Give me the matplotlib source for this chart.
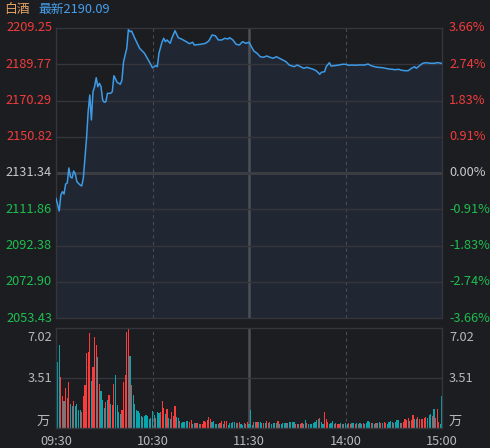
import numpy as np
import matplotlib
matplotlib.use("Agg")
import matplotlib.pyplot as plt
import matplotlib.transforms as mtransforms

plt.rcParams['font.family'] = ['Noto Sans CJK SC', 'DejaVu Sans']

# ---- data ----
title_name = "白酒"
title_last = "最新2190.09"
base_price = 2131.34

price_ticks = [2209.25, 2189.77, 2170.29, 2150.82, 2131.34, 2111.86, 2092.38, 2072.90, 2053.43]
pct_ticks = ["3.66%", "2.74%", "1.83%", "0.91%", "0.00%", "-0.91%", "-1.83%", "-2.74%", "-3.66%"]
time_ticks = [0, 60, 120, 180, 240]
time_labels = ["09:30", "10:30", "11:30", "14:00", "15:00"]
vol_ticks = ["7.02", "3.51"]
vol_max = 7.02

minutes = [0, 2, 3, 4, 5, 6, 7, 8, 9, 10, 11, 12, 13, 15, 16, 17, 18, 19, 20, 21,
           22, 23, 24, 25, 26, 27, 28, 29, 30, 31, 32, 34, 35, 36, 37, 38, 40, 41, 42, 44,
           45, 46, 47, 49, 52, 55, 58, 60, 62, 63, 64, 66, 67, 68, 69, 71, 72, 74, 76, 78,
           81, 83, 85, 86, 90, 93, 95, 97, 99, 101, 103, 105, 107, 108, 110, 112, 114, 116, 118, 120,
           123, 125, 127, 129, 131, 133, 135, 137, 139, 141, 143, 145, 148, 150, 152, 154, 156, 158, 160, 162,
           164, 165, 167, 168, 170, 171, 173, 176, 178, 180, 182, 184, 186, 188, 190, 192, 194, 196, 198, 200,
           203, 205, 207, 209, 211, 213, 215, 217, 219, 221, 223, 224, 226, 228, 230, 233, 235, 237, 239, 240]
prices = [2117.75, 2110.92, 2119.52, 2121.29, 2120.06, 2125.43, 2125.97, 2134.03, 2129.19, 2128.65,
          2132.42, 2130.80, 2126.67, 2124.89, 2124.36, 2128.65, 2139.40, 2150.15, 2164.28, 2173.25,
          2159.82, 2175.02, 2177.71, 2182.55, 2177.71, 2179.54, 2177.71, 2170.56, 2169.33, 2169.65,
          2174.16, 2174.16, 2175.02, 2183.62, 2181.85, 2180.07, 2179.00, 2181.31, 2191.14, 2198.34,
          2208.34, 2207.26, 2207.64, 2203.72, 2198.34, 2195.66, 2191.14, 2187.92, 2188.99, 2188.46,
          2195.66, 2201.89, 2203.72, 2201.89, 2202.80, 2201.03, 2203.72, 2207.80, 2204.04, 2203.34,
          2201.89, 2200.81, 2201.57, 2200.12, 2200.49, 2201.03, 2202.27, 2205.49, 2205.11, 2202.80,
          2202.80, 2203.72, 2203.34, 2204.04, 2202.80, 2200.49, 2200.12, 2201.89, 2201.03, 2201.57,
          2196.89, 2195.66, 2193.83, 2193.51, 2194.21, 2193.51, 2192.97, 2193.83, 2192.97, 2192.06,
          2191.14, 2189.37, 2188.46, 2189.37, 2188.46, 2187.60, 2188.13, 2187.60, 2187.06, 2186.15,
          2184.37, 2185.45, 2185.77, 2188.46, 2190.61, 2188.83, 2188.99, 2189.37, 2189.75, 2189.75,
          2189.21, 2189.37, 2189.21, 2189.37, 2189.37, 2189.37, 2189.91, 2188.99, 2188.46, 2188.13,
          2187.92, 2187.60, 2187.22, 2187.06, 2186.84, 2187.06, 2186.52, 2186.31, 2186.31, 2187.60,
          2188.46, 2187.60, 2188.99, 2190.28, 2190.61, 2190.28, 2190.28, 2190.61, 2190.44, 2190.09]

# volume per minute (万), 09:30 .. 15:00
vol_am1 = [1.73, 4.66, 5.83, 3.60, 2.25, 1.90, 2.83, 2.13, 3.23, 1.68,
           1.54, 1.90, 1.57, 1.66, 1.26, 1.26, 1.15, 2.27, 3.02, 5.29,
           5.36, 6.69, 3.30, 4.30, 6.39, 5.83, 5.01, 3.09, 2.60, 1.97,
           1.43, 1.85, 1.97, 2.32, 1.68, 1.61, 3.09, 3.72, 1.61, 1.15,
           0.98, 1.26, 3.25, 3.72, 6.76, 7.02, 5.05, 3.02, 2.32, 1.68,
           1.26, 1.19, 1.08, 0.84, 0.80, 0.84, 0.91, 0.87, 0.61, 0.68,
           1.19, 0.91]
dir_am1 = "wttrrtrrrt" "trttttrrrr" "rrtrrrtrtt" "trtrtrrttt" "trrrrrtrtt" "tttttttttt" "tt"
vol_am2 = [0.68, 1.15, 1.03, 1.10, 1.90, 1.38, 0.98, 1.31, 0.68, 0.61,
           1.15, 0.87, 1.54, 0.80, 0.70, 0.49, 0.38, 0.45, 0.45, 0.49,
           0.49, 0.45, 0.56, 0.28, 0.33, 0.38, 0.33, 0.28, 0.28, 0.28,
           0.49, 0.45, 0.56, 0.80, 0.63, 0.45, 0.49, 0.28, 0.28, 0.28,
           0.33, 0.49, 0.28, 0.49, 0.49, 0.21, 0.33, 0.38, 0.45, 0.45,
           0.33, 0.33, 0.45, 0.28, 0.21, 0.33, 0.28, 0.40, 0.30]
dir_am2 = "rttrrrtrtt" "rrrttrtttt" "trrttrrtrr" "rrrrrttttt" "rrtrrttttt" "trrttrtrt"
vol_pm = [1.26, 0.21, 0.45, 0.40, 0.40, 0.45, 0.45, 0.38, 0.33, 0.33,
          0.49, 0.38, 0.45, 0.28, 0.33, 0.33, 0.38, 0.49, 0.28, 0.28,
          0.33, 0.38, 0.38, 0.33, 0.45, 0.45, 0.45, 0.45, 0.28, 0.28,
          0.28, 0.30, 0.33, 0.30, 0.56, 0.33, 0.28, 0.28, 0.30, 0.33,
          0.45, 0.56, 0.63, 0.68, 0.45, 0.28, 1.15, 0.63, 0.45, 0.28,
          0.38, 0.49, 0.28, 0.33, 0.28, 0.28, 0.33, 0.28, 0.28, 0.38,
          0.28, 0.33, 0.28, 0.38, 0.38, 0.28, 0.33, 0.28, 0.33, 0.28,
          0.33, 0.28, 0.38, 0.49, 0.45, 0.38, 0.33, 0.28, 0.33, 0.38,
          0.45, 0.38, 0.33, 0.45, 0.38, 0.28, 0.45, 0.49, 0.45, 0.38,
          0.45, 0.56, 0.56, 0.38, 0.33, 0.45, 0.63, 0.56, 0.73, 0.49,
          0.56, 0.91, 0.63, 0.63, 0.80, 0.63, 0.63, 0.63, 0.68, 0.80,
          0.73, 0.91, 0.98, 0.87, 1.33, 0.73, 1.31, 0.40, 0.30, 2.27]
dir_pm = ("ttrtrtttrt" "rtrttttrtt" "tttrttttrr" "trrttrtttt" "tttrttrrrt" "ttrtrrtrtt"
          "trrttrtrtt" "rttttrttrt" "trtrrttttr" "ttttrrrrrt" "rrttrrrrrr" "tttrtrrrtt")

volumes = vol_am1 + vol_am2 + vol_pm
directions = dir_am1 + dir_am2 + dir_pm
assert len(volumes) == len(directions) == 241

# ---- style ----
bg = '#1c1d21'
grid_c = '#35363b'
up_c = '#f23c3c'
down_c = '#1dbf50'
flat_c = '#c8c8c8'
line_c = '#3d9ae6'
bar_colors = {'r': '#fa3c3c', 't': '#0aa5ad', 'w': '#f0f0f0'}
fs = 9.2

fig = plt.figure(figsize=(4.9, 4.48), dpi=100, facecolor=bg)
W, H = 490.0, 448.0
ax = fig.add_axes([56 / W, 1 - 318 / H, 386 / W, 290 / H], facecolor=bg)
axv = fig.add_axes([56 / W, 1 - 428 / H, 386 / W, 100 / H], facecolor=bg)

for a in (ax, axv):
    a.set_xlim(0, 240)
    a.set_xticks([]); a.set_yticks([])
    for s in a.spines.values():
        s.set_color(grid_c); s.set_linewidth(1.0)
    a.axvline(60, color='#4a4b50', lw=0.8, ls=(0, (3, 3)))
    a.axvline(180, color='#4a4b50', lw=0.8, ls=(0, (3, 3)))
    a.axvline(120, color='#4e4f54', lw=1.8)

# price panel
ax.set_ylim(price_ticks[-1], price_ticks[0])
for p in price_ticks[1:-1]:
    if p == base_price:
        ax.axhline(p, color='#3c3d42', lw=2.2)
    else:
        ax.axhline(p, color=grid_c, lw=1.0)
ax.fill_between(minutes, prices, price_ticks[-1], color='#202733', lw=0, zorder=1)
ax.plot(minutes, prices, color=line_c, lw=1.1, zorder=3)

ytr = ax.get_yaxis_transform()
for p, pct in zip(price_ticks, pct_ticks):
    c = up_c if p > base_price else (down_c if p < base_price else flat_c)
    ax.text(-4 / 386, p, "%.2f" % p, transform=ytr, ha='right', va='center',
            color=c, fontsize=fs)
    ax.text(1 + 7 / 386, p, pct, transform=ytr, ha='left', va='center',
            color=c, fontsize=fs)

# volume panel
axv.set_ylim(0, vol_max)
axv.axhline(vol_max / 2, color=grid_c, lw=1.0)
axv.bar(np.arange(len(volumes)), volumes, width=0.72,
        color=[bar_colors[d] for d in directions], lw=0, zorder=2)
lab_c = '#b8b8b8'
for side, xx, ha in ((0, -4 / 386, 'right'), (1, 1 + 7 / 386, 'left')):
    axv.text(xx, 0.91, vol_ticks[0], transform=axv.transAxes, ha=ha, va='center', color=lab_c, fontsize=fs)
    axv.text(xx, 0.50, vol_ticks[1], transform=axv.transAxes, ha=ha, va='center', color=lab_c, fontsize=fs)
    axv.text(xx - (0.005 if side == 0 else 0), 0.07, "万", transform=axv.transAxes, ha=ha, va='center',
             color=lab_c, fontsize=9.5)

xtr = mtransforms.blended_transform_factory(axv.transData, axv.transAxes)
for t, lab in zip(time_ticks, time_labels):
    axv.text(t, -0.13, lab, transform=xtr, ha='center', va='center', color=lab_c, fontsize=fs)

# header
fig.text(4 / W, 1 - 9 / H, title_name, color='#e3a263', ha='left', va='center', fontsize=fs)
fig.text(38 / W, 1 - 9 / H, title_last, color='#45a0ee', ha='left', va='center', fontsize=fs)

fig.savefig("out.png", dpi=100, facecolor=bg)
